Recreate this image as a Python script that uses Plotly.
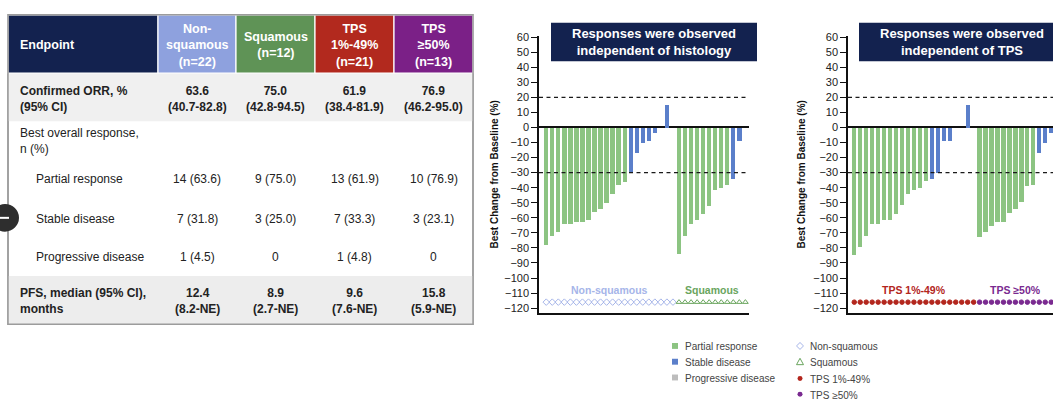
import plotly.graph_objects as go
import numpy as np

W, H = 1053, 411
FONT = "Liberation Sans, Arial, sans-serif"


def px(x):
    return x / W


def py(y):
    return 1 - y / H


# ---------------- Table data ----------------
group_headers = ["Non-<br>squamous<br>(n=22)", "Squamous<br>(n=12)", "TPS<br>1%-49%<br>(n=21)", "TPS<br>≥50%<br>(n=13)"]
header_fills = ["#13224f", "#8ea1de", "#5f9356", "#b2291e", "#7b2087"]
orr_pct = [63.6, 75.0, 61.9, 76.9]
orr_ci = ["40.7-82.8", "42.8-94.5", "38.4-81.9", "46.2-95.0"]
pr_n = [14, 9, 13, 10]
pr_pct = [63.6, 75.0, 61.9, 76.9]
sd_n = [7, 3, 7, 3]
sd_pct = [31.8, 25.0, 33.3, 23.1]
pd_n = [1, 0, 1, 0]
pd_pct = [4.5, None, 4.8, None]
pfs_median = [12.4, 8.9, 9.6, 15.8]
pfs_ci = ["8.2-NE", "2.7-NE", "7.6-NE", "5.9-NE"]

# ---------------- Waterfall data (best % change, one entry per patient) ----------------
nsq_change = [-78, -72, -69, -64, -64, -62.5, -62.5, -61, -56, -54, -50, -44, -38, -36,
              -30, -17, -10, -9, -3.5, 0, 15, None]
nsq_resp = ["PR"] * 14 + ["SD"] * 7 + ["PD"]
sq_change = [-84, -72, -64, -61, -57, -52, -41, -40, -38, -34, -8.5, 0]
sq_resp = ["PR"] * 9 + ["SD"] * 3
tps_low_change = [-84.5, -79, -72, -64, -64, -61, -61, -57.5, -51.5, -44, -41, -40, -35.5,
                  -34, -30, -9, -8.5, 0, 0, 15, None]
tps_low_resp = ["PR"] * 13 + ["SD"] * 7 + ["PD"]
tps_high_change = [-72.5, -69, -65, -62.5, -62.5, -56.5, -54, -49.5, -38.5, -38, -17, -10, -3.5]
tps_high_resp = ["PR"] * 10 + ["SD"] * 3

resp_colors = {"PR": "#8cc482", "SD": "#5b7fca", "PD": "#bdbdbd"}
resp_names = {"PR": "Partial response", "SD": "Stable disease", "PD": "Progressive disease"}

fig = go.Figure()

# ---------------- Waterfall panels ----------------
panels = [
    dict(xa="x", ya="y",
         groups=[("Non-squamous", nsq_change, nsq_resp, "#a6b5e9", "diamond-open", 5),
                 ("Squamous", sq_change, sq_resp, "#6aa55e", "triangle-up-open", 5)]),
    dict(xa="x2", ya="y2",
         groups=[("TPS 1%-49%", tps_low_change, tps_low_resp, "#b3261d", "circle", 4.5),
                 ("TPS ≥50%", tps_high_change, tps_high_resp, "#7a2a90", "circle", 4.5)]),
]

annotations = []
shapes = []

for p in panels:
    start = 0
    for label, vals, resp, col, sym, msize in p["groups"]:
        slots = np.arange(start, start + len(vals))
        fig.add_trace(go.Bar(
            x=slots, y=[np.nan if v is None else v for v in vals],
            marker=dict(color=[resp_colors[r] for r in resp], line=dict(width=0)),
            width=0.72, xaxis=p["xa"], yaxis=p["ya"], showlegend=False, hoverinfo="skip"))
        fig.add_trace(go.Scatter(
            x=slots, y=[-116] * len(vals), mode="markers",
            marker=dict(symbol=sym, size=msize, color=col, line=dict(color=col, width=1)),
            xaxis=p["xa"], yaxis=p["ya"], showlegend=False, hoverinfo="skip"))
        annotations.append(dict(
            x=(slots[0] + slots[-1]) / 2, y=-108, xref=p["xa"], yref=p["ya"],
            xanchor="center", yanchor="middle",
            text=f"<b>{label}</b>", showarrow=False,
            font=dict(size=10.5, color=col, family=FONT)))
        start += len(vals)
    for level in (20, -30):
        shapes.append(dict(type="line", xref=f"{p['xa']} domain", yref=p["ya"],
                           x0=0, x1=1, y0=level, y1=level, layer="above",
                           line=dict(color="#1a1a1a", width=1.2, dash="4px,3.5px")))

axis_common_y = dict(range=[-123.5, 61], tickmode="linear", tick0=-120, dtick=10,
                     showline=True, linecolor="#111", linewidth=1.5,
                     ticks="outside", ticklen=6, tickwidth=1.3, tickcolor="#111",
                     tickfont=dict(size=11, color="#222", family=FONT),
                     showgrid=False, zeroline=True, zerolinecolor="#111", zerolinewidth=1.5)
axis_common_x = dict(showline=True, linecolor="#111", linewidth=1.5, showticklabels=False,
                     ticks="", showgrid=False, zeroline=False)

ydom = [py(313), py(31)]
fig.update_layout(
    xaxis=dict(domain=[px(539), px(749)], range=[-1.2, 33.6], anchor="y", **axis_common_x),
    yaxis=dict(domain=ydom, anchor="x", **axis_common_y),
    xaxis2=dict(domain=[px(848), 1.0], range=[-1.05, 33.3], anchor="y2", **axis_common_x),
    yaxis2=dict(domain=ydom, anchor="x2", **axis_common_y),
)

# Axis titles
for xc in (494, 801):
    annotations.append(dict(x=px(xc), y=py(172), xref="paper", yref="paper",
                            xanchor="center", yanchor="middle",
                            text="<b>Best Change from Baseline (%)</b>", textangle=-90,
                            showarrow=False, font=dict(size=10, color="#111", family=FONT)))

# Panel title boxes
for (x0, x1), txt in [((551, 757), "Responses were observed<br>independent of histology"),
                      ((859, 1065), "Responses were observed<br>independent of TPS")]:
    shapes.append(dict(type="rect", xref="paper", yref="paper", x0=px(x0), x1=px(x1),
                       y0=py(57), y1=py(18), fillcolor="#13224f",
                       line=dict(color="#13224f", width=0), layer="above"))
    annotations.append(dict(x=px((x0 + x1) / 2), y=py(37.5), xref="paper", yref="paper",
                            xanchor="center", yanchor="middle",
                            text=f"<b>{txt}</b>", showarrow=False,
                            font=dict(size=13, color="white", family=FONT)))

# ---------------- Table ----------------
col_edges = [8, 158, 236, 315, 394, 473]
T_TOP, HEAD_BOTTOM, ORR_BOTTOM, PFS_TOP, T_BOTTOM = 10, 69, 118, 275, 324

def prect(x0, y0, x1, y1, fill, lc=None, lw=0, layer="below"):
    return dict(type="rect", xref="paper", yref="paper", x0=px(x0), x1=px(x1),
                y0=py(y1), y1=py(y0), fillcolor=fill,
                line=dict(color=lc or fill, width=lw), layer=layer)

shapes.append(prect(col_edges[0], T_TOP, col_edges[-1], T_BOTTOM, "white", "#9c9c9c", 1.5))
shapes.append(prect(col_edges[0], HEAD_BOTTOM, col_edges[-1], ORR_BOTTOM, "#f0f0f0"))
shapes.append(prect(col_edges[0], PFS_TOP, col_edges[-1], T_BOTTOM, "#ededed"))
for i, fill in enumerate(header_fills):
    shapes.append(prect(col_edges[i], T_TOP, col_edges[i + 1], HEAD_BOTTOM, fill, "white", 1.2))
shapes.append(dict(type="rect", xref="paper", yref="paper", x0=px(col_edges[0]), x1=px(col_edges[-1]),
                   y0=py(T_BOTTOM), y1=py(T_TOP), fillcolor="rgba(0,0,0,0)",
                   line=dict(color="#9c9c9c", width=1.5), layer="below"))

def ptext(x, y, text, size=12, color="#222", bold=False, align="center", xanchor="center"):
    annotations.append(dict(x=px(x), y=py(y), xref="paper", yref="paper",
                            text=f"<b>{text}</b>" if bold else text, showarrow=False,
                            xanchor=xanchor, yanchor="middle", align=align,
                            font=dict(size=size, color=color, family=FONT)))

centers = [(col_edges[i] + col_edges[i + 1]) / 2 for i in range(1, 5)]
ptext(18, 41, "Endpoint", size=12.5, color="white", bold=True, xanchor="left", align="left")
for c, hdr in zip(centers, group_headers):
    ptext(c, 41, hdr, size=12.5, color="white", bold=True)

ptext(18, 95, "Confirmed ORR, %<br>(95% CI)", bold=True, xanchor="left", align="left")
ptext(18, 138.5, "Best overall response,<br>n (%)", xanchor="left", align="left")
ptext(34, 177, "Partial response", xanchor="left", align="left")
ptext(34, 217, "Stable disease", xanchor="left", align="left")
ptext(34, 256, "Progressive disease", xanchor="left", align="left")
ptext(18, 300.5, "PFS, median (95% CI),<br>months", bold=True, xanchor="left", align="left")

def fmt_n(n, pct):
    return f"{n} ({pct:.1f})" if pct is not None else f"{n}"

for i, c in enumerate(centers):
    ptext(c, 95, f"{orr_pct[i]:.1f}<br>({orr_ci[i]})", bold=True)
    ptext(c, 177, fmt_n(pr_n[i], pr_pct[i]))
    ptext(c, 217, fmt_n(sd_n[i], sd_pct[i]))
    ptext(c, 256, fmt_n(pd_n[i], pd_pct[i]))
    ptext(c, 300.5, f"{pfs_median[i]:.1f}<br>({pfs_ci[i]})", bold=True)

# Collapse button at the left edge
shapes.append(dict(type="circle", xref="paper", yref="paper", x0=px(-9), x1=px(19),
                   y0=py(230), y1=py(202), fillcolor="#2e2e2e",
                   line=dict(color="#2e2e2e", width=0), layer="above"))
shapes.append(dict(type="line", xref="paper", yref="paper", x0=px(0), x1=px(9),
                   y0=py(216), y1=py(216), line=dict(color="white", width=2), layer="above"))

# ---------------- Key ----------------
for (code, yc) in zip(["PR", "SD", "PD"], [346, 362, 378]):
    shapes.append(prect(672, yc - 3, 678, yc + 3, resp_colors[code], layer="above"))
    ptext(683, yc + 1, resp_names[code], size=10, color="#444", xanchor="left", align="left")

key_groups = [("Non-squamous", "#a6b5e9", "diamond-open", 346),
              ("Squamous", "#6aa55e", "triangle-up-open", 362),
              ("TPS 1%-49%", "#b3261d", "circle", 379),
              ("TPS ≥50%", "#7a2a90", "circle", 395)]
for name, col, sym, yc in key_groups:
    if sym == "diamond-open":
        path = f"M {px(800)} {py(yc - 3.5)} L {px(803.5)} {py(yc)} L {px(800)} {py(yc + 3.5)} L {px(796.5)} {py(yc)} Z"
        shapes.append(dict(type="path", xref="paper", yref="paper", path=path,
                           line=dict(color=col, width=1), fillcolor="white", layer="above"))
    elif sym == "triangle-up-open":
        path = f"M {px(800)} {py(yc - 3.5)} L {px(803.5)} {py(yc + 3)} L {px(796.5)} {py(yc + 3)} Z"
        shapes.append(dict(type="path", xref="paper", yref="paper", path=path,
                           line=dict(color=col, width=1), fillcolor="white", layer="above"))
    else:
        shapes.append(dict(type="circle", xref="paper", yref="paper", x0=px(797.5), x1=px(802.5),
                           y0=py(yc + 2.5), y1=py(yc - 2.5), fillcolor=col,
                           line=dict(color=col, width=0), layer="above"))
    ptext(808, yc + 1, name, size=10, color="#444", xanchor="left", align="left")

fig.update_layout(
    width=W, height=H, margin=dict(l=0, r=0, t=0, b=0),
    paper_bgcolor="white", plot_bgcolor="rgba(0,0,0,0)",
    bargap=0, showlegend=False,
    font=dict(family=FONT),
    shapes=shapes, annotations=annotations,
)

fig.write_html("out.html")
